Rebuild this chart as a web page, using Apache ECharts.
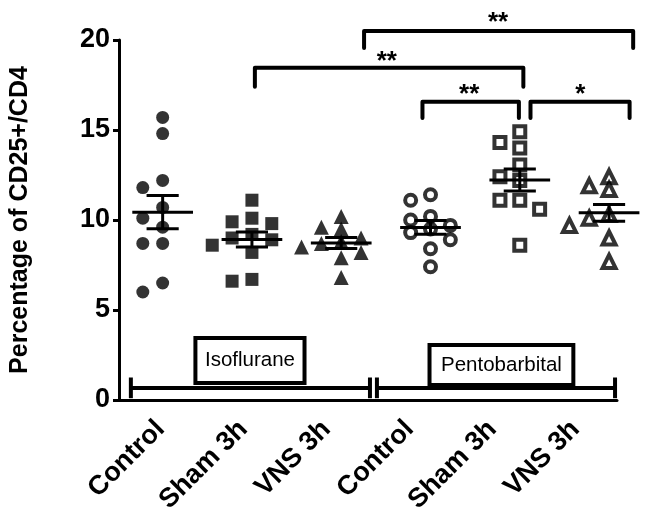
<!DOCTYPE html>
<html><head><meta charset="utf-8">
<script src="https://cdn.jsdelivr.net/npm/echarts@6/dist/echarts.min.js"></script>
<style>html,body{margin:0;padding:0;background:#fff}#c{width:665px;height:518px}</style>
</head><body><div id="c"></div>
<script>
// ---- data ----
const categories = ['Control', 'Sham 3h', 'VNS 3h', 'Control', 'Sham 3h', 'VNS 3h'];
const yTicks = [0, 5, 10, 15, 20];
const isoControl   = [15.7, 14.8, 12.2, 11.8, 10.7, 10.1, 9.6, 8.7, 8.7, 6.5, 6.0];
const isoSham      = [11.1, 10.1, 9.9, 9.8, 9.2, 9.0, 8.9, 8.6, 8.2, 6.7, 6.6];
const isoVNS       = [10.2, 9.6, 9.5, 9.0, 8.8, 8.7, 8.5, 8.2, 7.9, 6.8];
const pentoControl = [11.4, 11.1, 10.2, 10.0, 9.7, 9.5, 9.3, 8.9, 8.4, 7.4];
const pentoSham    = [14.9, 14.3, 14.0, 13.05, 12.4, 12.2, 11.1, 11.1, 10.6, 8.6];
const pentoVNS     = [12.4, 11.9, 11.7, 11.5, 10.3, 10.1, 9.7, 9.7, 9.0, 7.7];
// significance brackets: [from group, to group, bar level, tick end]
const sigBrackets = [[2.256, 5.27, 20.5, 19.55], [1.033, 4.04, 18.46, 17.4], [2.91, 3.99, 16.57, 15.67], [4.12, 5.23, 16.57, 15.67]];
const sigLabels = ['**', '**', '**', '*'];
const sigLabelPos = [[3.756, 20.95], [2.511, 18.8], [3.433, 16.95], [4.678, 16.95]];
const anesthesia = ['Isoflurane', 'Pentobarbital'];
const anesthesiaSpan = [[-0.356, 2.322], [2.4, 5.067]];
const anesthesiaBox = [[0.367, 1.589, 3.44, 0.94], [2.989, 4.6, 3.06, 0.83]];

const groups = [isoControl, isoSham, isoVNS, pentoControl, pentoSham, pentoVNS];
const symbols = ['circle', 'rect', 'triangle', 'circle', 'rect', 'triangle'];
const hollow = [false, false, false, true, true, true];

const FONT = 'Liberation Sans, Arial, sans-serif';
const PX_X = 90, PX_Y = 18; // approx pixels per group unit / per y unit (for swarm spacing)

function swarm(vals, gi) {
  const placed = [];
  const sorted = vals.slice().sort((a, b) => b - a);
  return sorted.map(v => {
    const y = v * PX_Y;
    const cands = [0, -1, 1, -2, 2, -3, 3];
    for (const k of cands) {
      const x = k * 20;
      if (placed.every(p => Math.hypot(p.x - x, p.y - y) >= 12)) {
        placed.push({x, y});
        return [gi + x / PX_X, v];
      }
    }
    return [gi, v];
  });
}
function stats(a) {
  const n = a.length, m = a.reduce((s, v) => s + v, 0) / n;
  const sd = Math.sqrt(a.reduce((s, v) => s + (v - m) * (v - m), 0) / (n - 1));
  return [m, sd / Math.sqrt(n)];
}

const series = groups.map((g, i) => ({
  type: 'scatter', xAxisIndex: 1, yAxisIndex: 0,
  symbol: symbols[i],
  symbolSize: hollow[i] ? (symbols[i] === 'triangle' ? 13 : 11) : (symbols[i] === 'triangle' ? 15 : 13),
  itemStyle: hollow[i] ? {color: '#fff', borderColor: '#000', borderWidth: 4} : {color: '#000'},
  data: swarm(g, i), z: 2, silent: true
}));

series.push({
  type: 'custom', xAxisIndex: 1, yAxisIndex: 0, z: 3, silent: true,
  data: groups.map((g, i) => { const s = stats(g); return [i, s[0], s[1]]; }),
  renderItem: (params, api) => {
    const x = api.value(0), m = api.value(1), se = api.value(2);
    const c = api.coord([x, m]), t = api.coord([x, m + se]), b = api.coord([x, m - se]);
    const hw = api.size([0.34, 0])[0], cw = api.size([0.18, 0])[0];
    const st = {stroke: '#000', lineWidth: 3};
    return {type: 'group', children: [
      {type: 'line', shape: {x1: c[0] - hw, y1: c[1], x2: c[0] + hw, y2: c[1]}, style: st},
      {type: 'line', shape: {x1: c[0], y1: t[1], x2: c[0], y2: b[1]}, style: st},
      {type: 'line', shape: {x1: c[0] - cw, y1: t[1], x2: c[0] + cw, y2: t[1]}, style: st},
      {type: 'line', shape: {x1: c[0] - cw, y1: b[1], x2: c[0] + cw, y2: b[1]}, style: st}
    ]};
  }
});

series.push({
  type: 'custom', xAxisIndex: 1, yAxisIndex: 0, z: 4, silent: true, clip: false,
  data: sigBrackets,
  renderItem: (params, api) => {
    const a = api.coord([api.value(0), api.value(2)]), b = api.coord([api.value(1), api.value(2)]);
    const e = api.coord([api.value(0), api.value(3)]);
    const p = sigLabelPos[params.dataIndex], lp = api.coord(p);
    return {type: 'group', children: [
      {type: 'polyline', shape: {points: [[a[0], e[1]], [a[0], a[1]], [b[0], b[1]], [b[0], e[1]]]},
       style: {stroke: '#000', lineWidth: 4, fill: null, lineJoin: 'round', lineCap: 'round'}},
      {type: 'text', x: lp[0], y: lp[1], style: {text: sigLabels[params.dataIndex], fill: '#000',
        font: 'bold 26px ' + FONT, align: 'center', verticalAlign: 'middle'}}
    ]};
  }
});

series.push({
  type: 'custom', xAxisIndex: 1, yAxisIndex: 0, z: 4, silent: true, clip: false,
  data: anesthesiaSpan.map((s, i) => [s[0], s[1], anesthesiaBox[i][0], anesthesiaBox[i][1], anesthesiaBox[i][2], anesthesiaBox[i][3]]),
  renderItem: (params, api) => {
    const l = api.coord([api.value(0), 0.667]), r = api.coord([api.value(1), 0.667]);
    const ct = api.coord([api.value(0), 1.25]), cb = api.coord([api.value(0), 0.1]);
    const bt = api.coord([api.value(2), api.value(4)]), bb = api.coord([api.value(3), api.value(5)]);
    const st = {stroke: '#000', lineWidth: 4};
    return {type: 'group', children: [
      {type: 'rect', shape: {x: bt[0], y: bt[1], width: bb[0] - bt[0], height: bb[1] - bt[1]},
       style: {fill: '#fff', stroke: '#000', lineWidth: 4}},
      {type: 'text', x: (bt[0] + bb[0]) / 2, y: (bt[1] + bb[1]) / 2,
       style: {text: anesthesia[params.dataIndex], fill: '#000', font: '20.5px ' + FONT, align: 'center', verticalAlign: 'middle'}},
      {type: 'line', shape: {x1: l[0], y1: l[1], x2: r[0], y2: r[1]}, style: st},
      {type: 'line', shape: {x1: l[0], y1: ct[1], x2: l[0], y2: cb[1]}, style: st},
      {type: 'line', shape: {x1: r[0], y1: ct[1], x2: r[0], y2: cb[1]}, style: st}
    ]};
  }
});

const chart = echarts.init(document.getElementById('c'), null, {renderer: 'canvas'});
chart.setOption({
  backgroundColor: '#fff',
  animation: false,
  grid: {left: 115, right: 48, top: 40, bottom: 118},
  xAxis: [
    {type: 'category', data: categories, boundaryGap: true,
     axisLine: {onZero: false, lineStyle: {color: '#000', width: 3}},
     axisTick: {alignWithLabel: true, length: 10, lineStyle: {color: '#000', width: 3}},
     axisLabel: {rotate: 45, margin: 25, color: '#000', fontWeight: 'bold', fontSize: 27, fontFamily: FONT}},
    {type: 'value', min: -44 / 90, max: -44 / 90 + 502 / 90, show: false}
  ],
  yAxis: {type: 'value', min: yTicks[0], max: yTicks[yTicks.length - 1], interval: 5,
    name: 'Percentage of CD25+/CD4', nameLocation: 'middle', nameGap: 86,
    nameTextStyle: {color: '#000', fontWeight: 'bold', fontSize: 25, fontFamily: FONT},
    axisLine: {show: true, onZero: false, lineStyle: {color: '#000', width: 3}},
    axisTick: {show: true, length: 6, lineStyle: {color: '#000', width: 3}},
    splitLine: {show: false},
    axisLabel: {margin: 9, color: '#000', fontWeight: 'bold', fontSize: 27, fontFamily: FONT}},
  series: series
});
</script></body></html>
